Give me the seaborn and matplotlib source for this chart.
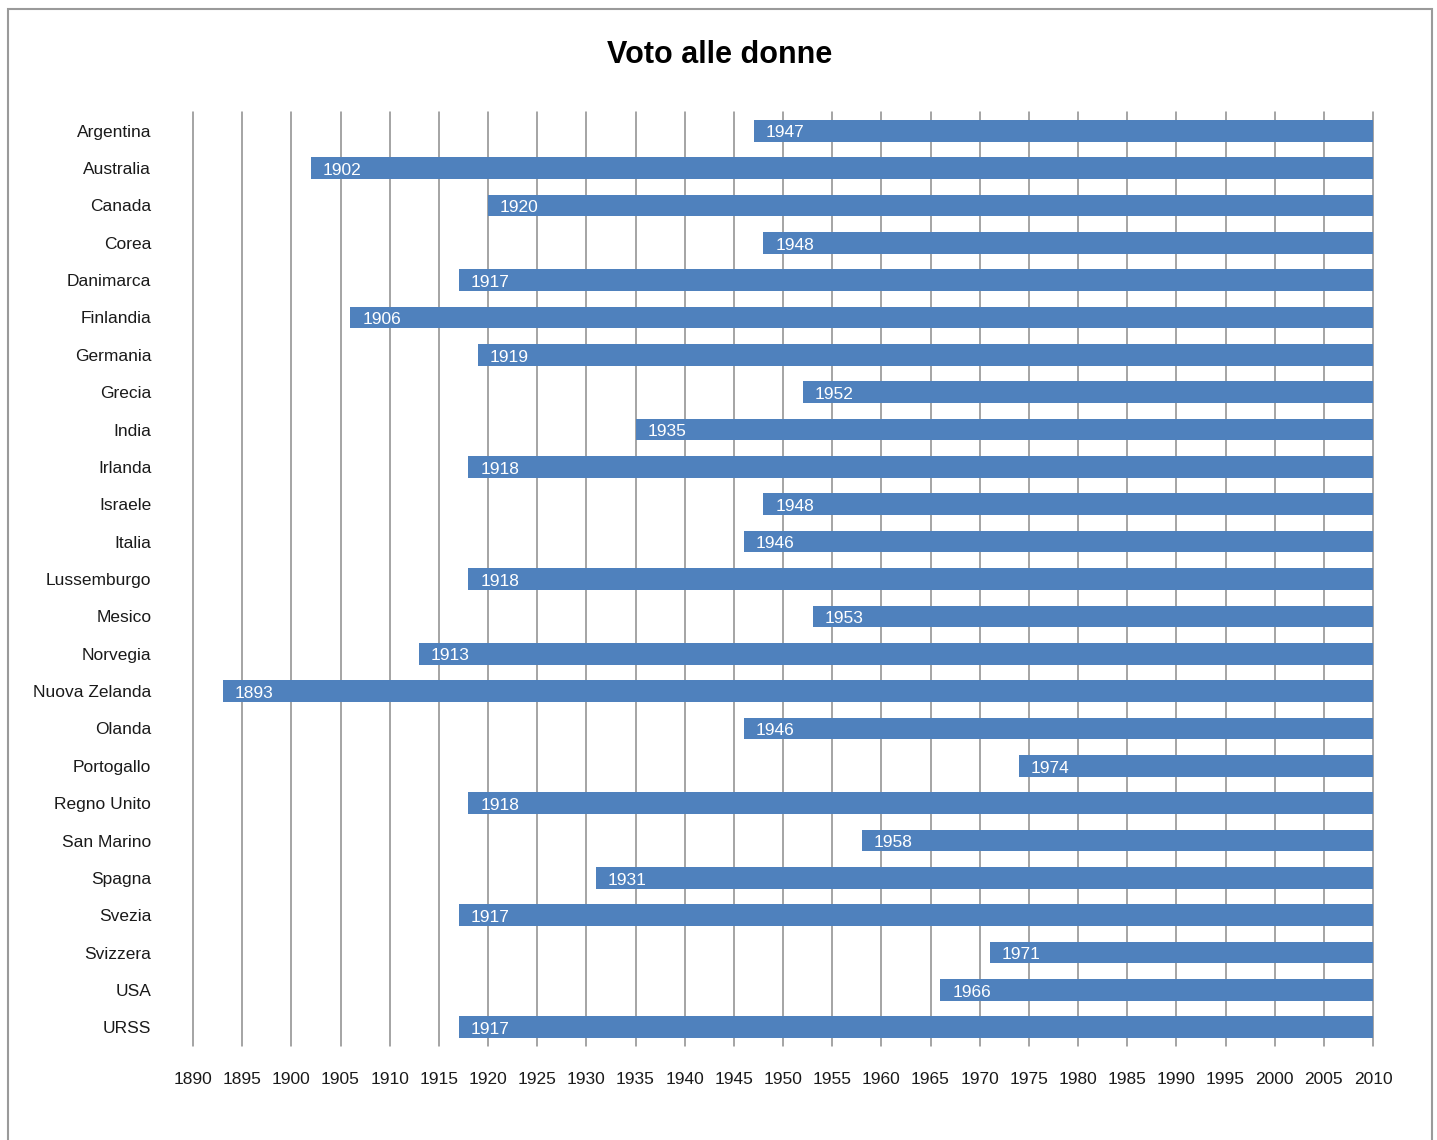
import matplotlib
matplotlib.use("Agg")
import matplotlib.pyplot as plt
import seaborn as sns
import pandas as pd
from matplotlib.patches import Rectangle

countries = ["Argentina", "Australia", "Canada", "Corea", "Danimarca", "Finlandia",
             "Germania", "Grecia", "India", "Irlanda", "Israele", "Italia",
             "Lussemburgo", "Mesico", "Norvegia", "Nuova Zelanda", "Olanda",
             "Portogallo", "Regno Unito", "San Marino", "Spagna", "Svezia",
             "Svizzera", "USA", "URSS"]
years = [1947, 1902, 1920, 1948, 1917, 1906, 1919, 1952, 1935, 1918, 1948, 1946,
         1918, 1953, 1913, 1893, 1946, 1974, 1918, 1958, 1931, 1917, 1971, 1966, 1917]
end_year = 2010
x_ticks = list(range(1890, 2011, 5))

df = pd.DataFrame({"paese": countries, "anno": years})
df["durata"] = end_year - df["anno"]

sns.set_theme(style="white")
fam = ["Liberation Sans", "DejaVu Sans"]
plt.rcParams["font.family"] = fam

fig = plt.figure(figsize=(14.37, 11.40), dpi=100)
ax = fig.add_axes([193/1437, 1 - 1046/1140, (1373-193)/1437, (1046-112)/1140])

sns.barplot(data=df, x="durata", y="paese", order=countries, orient="h",
            color="#4F81BD", saturation=1, errorbar=None, width=0.58,
            left=df["anno"].values, ax=ax, zorder=3, linewidth=0)

for i, (c, y) in enumerate(zip(countries, years)):
    ax.text(y + 1.2, i + 0.06, str(y), color="white", fontsize=12.5,
            va="center", ha="left", zorder=4, family=fam)

ax.set_xlim(1890, 2010)
ax.set_ylim(len(countries) - 0.5, -0.5)
ax.set_xticks(x_ticks)
ax.set_xticklabels([str(t) for t in x_ticks])
ax.xaxis.grid(True, color="#8c8c8c", linewidth=1.1, zorder=0)
ax.yaxis.grid(False)
ax.set_axisbelow(True)
for line in ax.get_xgridlines():
    line.set_clip_on(False)
for s in ax.spines.values():
    s.set_visible(False)
ax.tick_params(axis="x", length=0, pad=19, labelsize=12.5, colors="#1a1a1a")
ax.tick_params(axis="y", length=0, pad=30, labelsize=12.5, colors="#1a1a1a")
ax.set_xlabel("")
ax.set_ylabel("")

fig.text(720/1437, 1 - 55/1140, "Voto alle donne", ha="center", va="center",
         fontsize=22, fontweight="bold", color="black", family=fam)

fig.add_artist(Rectangle((8/1437, -0.02), (1432-8)/1437, (1140-9)/1140 + 0.02,
                         transform=fig.transFigure, fill=False,
                         edgecolor="#9a9a9a", linewidth=1.5))

fig.savefig("out.png", dpi=100)
